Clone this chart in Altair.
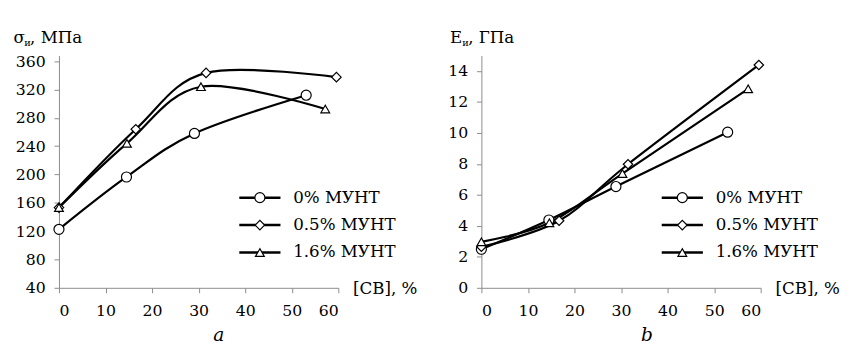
import altair as alt
import pandas as pd

series = ["0% МУНТ", "0.5% МУНТ", "1.6% МУНТ"]

# Panel a: sigma, MPa
a_x0 = [0, 14.5, 29.1, 53.1]
a_y0 = [122.6, 196.5, 258, 312]
a_x05 = [0, 16.5, 31.6, 59.6]
a_y05 = [153.3, 264, 343.5, 337.5]
a_x16 = [0, 14.6, 30.5, 57.2]
a_y16 = [153.3, 244, 324, 292.5]

# Panel b: E, GPa
b_x0 = [0, 14.5, 28.9, 52.9]
b_y0 = [2.49, 4.38, 6.54, 10.05]
b_x05 = [0, 16.7, 31.5, 59.6]
b_y05 = [2.65, 4.33, 7.98, 14.39]
b_x16 = [0, 14.6, 30.3, 57.3]
b_y16 = [2.97, 4.2, 7.38, 12.85]

x_ticks = [0, 10, 20, 30, 40, 50, 60]
a_ticks = [40, 80, 120, 160, 200, 240, 280, 320, 360]
b_ticks = [0, 2, 4, 6, 8, 10, 12, 14]

FONT = "DejaVu Serif"
W, H = 285, 237


def frame(xs_list, ys_list):
    rows = []
    for s, xs, ys in zip(series, xs_list, ys_list):
        for i, (x, y) in enumerate(zip(xs, ys)):
            rows.append({"series": s, "x": x, "y": y, "i": i})
    return pd.DataFrame(rows)


shape_scale = alt.Scale(domain=series, range=["circle", "diamond", "triangle-up"])
size_scale = alt.Scale(domain=series, range=[105, 80, 75])


def txt(text, x, y, size=17, italic=False, align="left"):
    return alt.Chart(pd.DataFrame({"t": [text]})).mark_text(
        font=FONT, fontSize=size, color="black", align=align, baseline="alphabetic",
        fontStyle="italic" if italic else "normal",
    ).encode(x=alt.value(x), y=alt.value(y), text="t:N")


def panel(df, ydom, yticks, title_parts, letter, letter_x):
    xs = alt.X("x:Q", scale=alt.Scale(domain=[0, 60], nice=False),
               axis=alt.Axis(values=x_ticks, title=None, labelPadding=10))
    ys = alt.Y("y:Q", scale=alt.Scale(domain=ydom, nice=False, zero=False),
               axis=alt.Axis(values=yticks, title=None, labelPadding=9))
    base = alt.Chart(df)
    lines = base.mark_line(interpolate="cardinal", color="black", strokeWidth=2.2).encode(
        x=xs, y=ys, detail="series:N", order="i:Q")
    pts = base.mark_point(filled=True, fill="white", stroke="black", strokeWidth=1.2, opacity=1).encode(
        x=xs, y=ys,
        shape=alt.Shape("series:N", scale=shape_scale, legend=None),
        size=alt.Size("series:N", scale=size_scale, legend=None))
    data_layer = alt.layer(lines, pts)

    leg_df = pd.DataFrame({"series": series})
    ly = alt.Y("series:N", scale=alt.Scale(type="point", domain=series, range=[145, 201], padding=0),
               axis=None)
    lb = alt.Chart(leg_df)
    leg_rule = lb.mark_rule(color="black", strokeWidth=2.5).encode(
        x=alt.value(184), x2=alt.value(226), y=ly)
    leg_pts = lb.mark_point(filled=True, fill="white", stroke="black", strokeWidth=1.2, opacity=1).encode(
        x=alt.value(205), y=ly,
        shape=alt.Shape("series:N", scale=shape_scale, legend=None),
        size=alt.Size("series:N", scale=size_scale, legend=None))
    leg_txt = lb.mark_text(font=FONT, fontSize=17, color="black", align="left", baseline="middle").encode(
        x=alt.value(239), y=ly, text="series:N")
    leg_layer = alt.layer(leg_rule, leg_pts, leg_txt)

    deco = [txt(t, x, y, size=s) for (t, x, y, s) in title_parts]
    deco.append(txt("[CB], %", 300, 243.5, size=17))
    deco.append(txt(letter, letter_x, 291, size=19, italic=True, align="center"))

    return alt.layer(data_layer, leg_layer, *deco).resolve_scale(y="independent").properties(
        width=W, height=H)


left = panel(frame([a_x0, a_x05, a_x16], [a_y0, a_y05, a_y16]), [40, 368], a_ticks,
             [("σ", -46.5, -12.7, 17), ("и", -35.5, -9.5, 10), (", МПа", -29.5, -12.7, 17)],
             "a", 163)
right = panel(frame([b_x0, b_x05, b_x16], [b_y0, b_y05, b_y16]), [0, 15], b_ticks,
              [("E", -32, -12.7, 17), ("и", -19.5, -9.5, 10), (", ГПа", -13.5, -12.7, 17)],
              "b", 169)

chart = alt.hconcat(left, right, spacing=146, bounds="flush").properties(
    padding={"left": 5, "top": 18, "right": 5, "bottom": 5}
).configure_view(stroke=None).configure_axis(
    grid=False, labelFont=FONT, labelFontSize=16, labelColor="black",
    domainColor="#8a8a8a", tickColor="#8a8a8a", tickSize=5,
    domainWidth=1, tickWidth=1,
)

chart.save("out.html", embed_options={"renderer": "svg", "actions": False})
